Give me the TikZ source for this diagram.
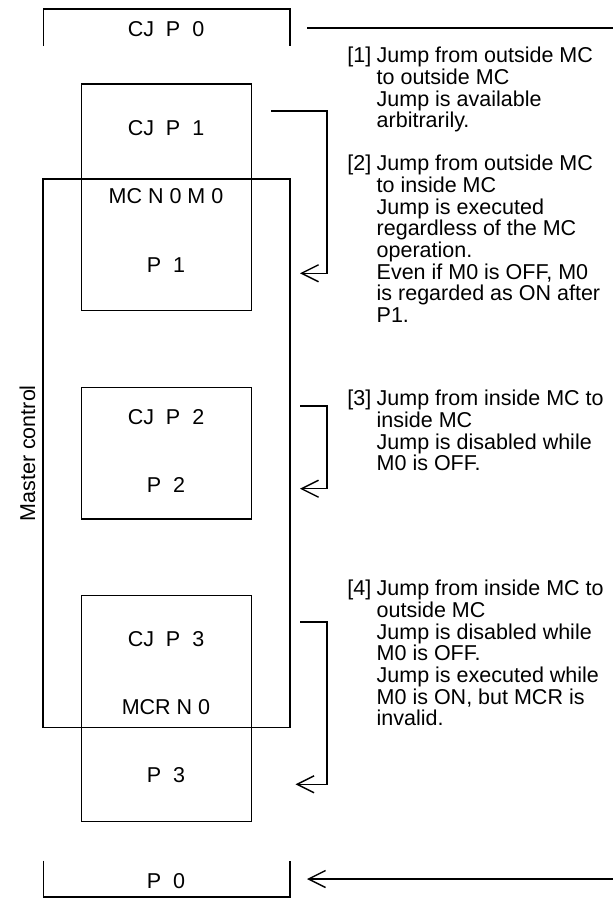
\documentclass[tikz,border=0pt]{standalone}
\usepackage{fontspec}
\setmainfont{Liberation Sans}
\usetikzlibrary{arrows.meta,positioning}

\begin{document}
\begin{tikzpicture}[x=1pt, y=-1pt, every node/.style={font=\fontsize{21.5}{21.7}\selectfont, inner sep=0pt}, blk/.style={draw,line width=1.1pt,minimum width=170.1pt}, mcbox/.style={draw,line width=1.6pt,minimum width=246.7pt,minimum height=548.3pt}, note/.style={align=left,anchor=north west}, brk/.style={line width=1.6pt}, jump/.style={line width=1.4pt,-{Straight Barb[length=17pt,width=17pt]}}]
\useasboundingbox (0,0) rectangle (613,898);
% master control range and program blocks
\node[mcbox] (mc) at (166.35,453.15) {};
\node[rotate=90] (mclbl) at (27.4,453.3) {Master control};
\node[blk, minimum height=226.7pt] (blkone) at (166.35,197.35) {};
\node[blk, minimum height=131.7pt] (blktwo) at (166.35,453.15) {};
\node[blk, minimum height=226pt] (blkthree) at (166.35,708.7) {};
\draw[brk] (43.4,46) |- (289.7,9) -- (289.7,46);
\draw[brk] (43.4,860.7) |- (289.7,896.7) -- (289.7,860.7);
% instructions
\node (cjpzero) at (166,29) {CJ~~P~~0};
\node (cjpone) at (166,128) {CJ~~P~~1};
\node (mcset) at (166,196) {MC N 0 M 0};
\node (pone) at (166,265) {P~~1};
\node (cjptwo) at (166,417.3) {CJ~~P~~2};
\node (ptwo) at (166,485.3) {P~~2};
\node (cjpthree) at (166,639) {CJ~~P~~3};
\node (mcreset) at (166,707.3) {MCR N 0};
\node (pthree) at (166,775) {P~~3};
\node (pzero) at (166,881) {P~~0};
% jumps
\coordinate (jzs) at (307,28);
\coordinate (jze) at (613,28);
\coordinate (jzr) at (613,879);
\coordinate (jzt) at (307,879);
\coordinate (joa) at (271,111);
\coordinate (job) at (300,273.3);
\coordinate (jta) at (300,406);
\coordinate (jtb) at (300,488.7);
\coordinate (jha) at (300,622);
\coordinate (jhb) at (295.5,784.3);
\draw[brk] (jzs) -- (jze);
\draw[jump] (jzr) -- (jzt);
\draw[jump] (joa) -- ++(55.8,0) |- (job);
\draw[jump] (jta) -- ++(26.8,0) |- (jtb);
\draw[jump] (jha) -- ++(26.8,0) |- (jhb);
% notes
\node[note] (ntone) at (376.5,47) {Jump from outside MC\\to outside MC\\Jump is available\\arbitrarily.};
\node[left=5pt of ntone.north west, anchor=north east] (tgone) {[1]};
\node[note] (nttwo) at (376.5,155) {Jump from outside MC\\to inside MC\\Jump is executed\\regardless of the MC\\operation.\\Even if M0 is OFF, M0\\is regarded as ON after\\P1.};
\node[left=5pt of nttwo.north west, anchor=north east] (tgtwo) {[2]};
\node[note] (ntthree) at (376.5,390) {Jump from inside MC to\\inside MC\\Jump is disabled while\\M0 is OFF.};
\node[left=5pt of ntthree.north west, anchor=north east] (tgthree) {[3]};
\node[note] (ntfour) at (376.5,580) {Jump from inside MC to\\outside MC\\Jump is disabled while\\M0 is OFF.\\Jump is executed while\\M0 is ON, but MCR is\\invalid.};
\node[left=5pt of ntfour.north west, anchor=north east] (tgfour) {[4]};
\end{tikzpicture}
\end{document}
